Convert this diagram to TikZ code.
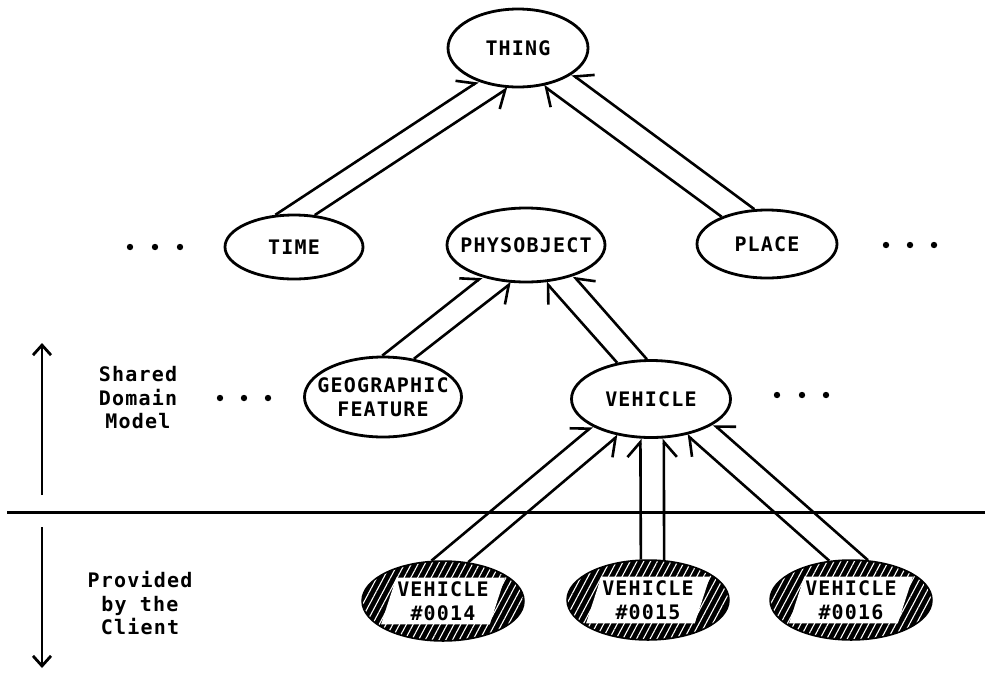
\documentclass[tikz,border=0pt]{standalone}
\usepackage{fontspec}
\newfontfamily\diafont[LetterSpace=6]{DejaVu Sans Mono Bold}
\usetikzlibrary{arrows.meta,shapes.geometric,patterns.meta}

\begin{document}
\begin{tikzpicture}[x=1pt, y=-1pt,
txt/.style = {font=\diafont\fontsize{20}{23.5}\selectfont, align=center, inner sep=0},
oval/.style = {ellipse, draw, line width=2.8, inner sep=0},
inst/.style = {ellipse, draw, line width=3.5, fill=black, inner sep=0,
               minimum width=160, minimum height=78,
               postaction={pattern={Lines[angle=62, distance=6pt, line width=1.1pt]}, pattern color=white}},
instlbl/.style = {txt, trapezium, trapezium left angle=72, trapezium right angle=108,
                  fill=white, inner xsep=1, inner ysep=4},
lpart/.style = {line width=2.6, -{Straight Barb[left, length=15pt, width=26pt]}},
rpart/.style = {line width=2.6, -{Straight Barb[right, length=15pt, width=26pt]}},
span/.style = {line width=2.8, -{Straight Barb[length=10pt, width=18pt]}}]
    \useasboundingbox (0,0) rectangle (985,673);
    % concept hierarchy
    \node [oval, minimum width=140, minimum height=78, label={[txt]center:THING}]      (thing)   at (518,48)  {};
    \node [oval, minimum width=138, minimum height=64, label={[txt]center:TIME}]       (time)    at (294,247) {};
    \node [oval, minimum width=158, minimum height=74, label={[txt]center:PHYSOBJECT}] (phys)    at (526,245) {};
    \node [oval, minimum width=140, minimum height=68, label={[txt]center:PLACE}]      (place)   at (767,244) {};
    \node [oval, minimum width=157, minimum height=80, label={[txt]center:{GEOGRAPHIC\\FEATURE}}] (geo) at (383,397) {};
    \node [oval, minimum width=159, minimum height=77, label={[txt]center:VEHICLE}]    (vehicle) at (651,399) {};
    % client instances
    \node [inst, label={[instlbl]center:{VEHICLE\\\#0014}}] (v14) at (443,601) {};
    \node [inst, label={[instlbl]center:{VEHICLE\\\#0015}}] (v15) at (648,600) {};
    \node [inst, label={[instlbl]center:{VEHICLE\\\#0016}}] (v16) at (851,600) {};
    % double links
    \draw[lpart] (time.120)    -- (thing.220);
    \draw[rpart] (time.57)     -- (thing.256);
    \draw[lpart] (place.149)   -- (thing.304);
    \draw[rpart] (place.110)   -- (thing.334);
    \draw[lpart] (geo.91)      -- (phys.216);
    \draw[rpart] (geo.51)      -- (phys.249);
    \draw[lpart] (vehicle.133) -- (phys.298);
    \draw[rpart] (vehicle.96)  -- (phys.327);
    \draw[lpart] (v14.106)     -- (vehicle.205);
    \draw[rpart] (v14.57)      -- (vehicle.228);
    \draw[lpart] (v15.100)     -- (vehicle.255);
    \draw[rpart] (v15.68)      -- (vehicle.288);
    \draw[lpart] (v16.119)     -- (vehicle.315);
    \draw[rpart] (v16.67)      -- (vehicle.338);
    % dots
    \foreach \x in {130,155,180} \fill (\x,247) circle (3.2);
    \foreach \x in {886,910,934} \fill (\x,245) circle (3.2);
    \foreach \x in {220,244,268} \fill (\x,398) circle (3.2);
    \foreach \x in {777,802,826} \fill (\x,395) circle (3.2);
    % boundary and side notes
    \coordinate (sepL) at (7,512);
    \coordinate (sepR) at (985,512);
    \draw[line width=3] (sepL) -- (sepR);
    \coordinate (upFoot) at (42,495);
    \coordinate (upTip)  at (42,343);
    \coordinate (dnFoot) at (42,527);
    \coordinate (dnTip)  at (42,668);
    \draw[span] (upFoot) -- (upTip);
    \draw[span] (dnFoot) -- (dnTip);
    \node [txt] (shared) at (138,398) {Shared\\Domain\\Model};
    \node [txt] (client) at (140,603) {Provided\\by the\\Client};
\end{tikzpicture}
\end{document}
